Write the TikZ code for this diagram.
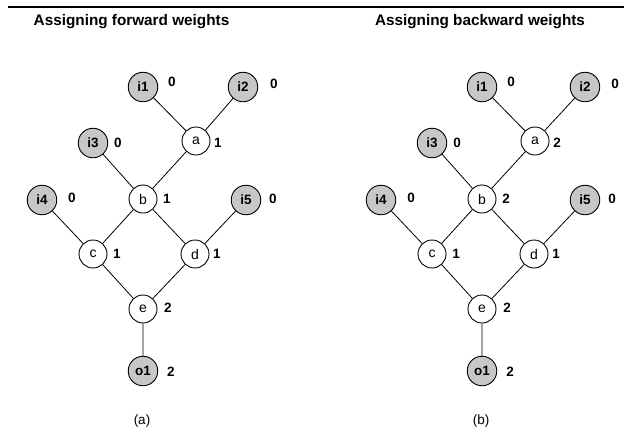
\documentclass[tikz,border=0pt]{standalone}
\usepackage{fontspec}
\setmainfont{Liberation Sans}
\begin{document}
\begin{tikzpicture}[x=1pt,y=-1pt,
  every node/.style={font=\fontsize{14}{16}\selectfont},
  gate/.style={circle,draw,line width=0.9pt,fill=white,minimum size=28pt,inner sep=0pt},
  port/.style={circle,draw,line width=0.9pt,fill=black!22,minimum size=29.5pt,inner sep=0pt,font=\fontsize{13.5}{16}\selectfont\bfseries},
  wt/.style={font=\fontsize{13.5}{16}\selectfont\bfseries,inner sep=0pt},
  wire/.style={line width=0.8pt},
  heading/.style={font=\fontsize{15.3}{18}\selectfont\bfseries,inner sep=0pt},
  caption/.style={font=\fontsize{13.5}{16}\selectfont,inner sep=0pt}]
\useasboundingbox (0,0) rectangle (624,432);
\draw[line width=1.6pt] (8,7) -- (624,7);

% forward weights
\node[heading] (Lt) at (131.5,22) {Assigning forward weights};
\node[port] (Li1) at (143,87) {i1};
\node[port] (Li2) at (243,87) {i2};
\node[port] (Li3) at (93,143) {i3};
\node[gate] (La) at (196,141) {a};
\node[gate] (Lb) at (143,199) {b};
\node[port] (Li4) at (42,200) {i4};
\node[port] (Li5) at (246,200) {i5};
\node[gate] (Lc) at (93,254) {c};
\node[gate] (Ld) at (195,254) {d};
\node[gate] (Le) at (143,309) {e};
\node[port] (Lo1) at (143,371) {o1};
\draw[wire] (Li1) -- (La) (Li2) -- (La) (La) -- (Lb) (Li3) -- (Lb)
  (Lb) -- (Lc) (Lb) -- (Ld) (Li4) -- (Lc) (Li5) -- (Ld)
  (Lc) -- (Le) (Ld) -- (Le) (Le) -- (Lo1);
\node[wt] (Lwi1) at (172,82) {0};
\node[wt] (Lwi2) at (274,84) {0};
\node[wt] (Lwi3) at (118,143) {0};
\node[wt] (Lwa) at (218,143) {1};
\node[wt] (Lwb) at (167,199) {1};
\node[wt] (Lwi4) at (72,198) {0};
\node[wt] (Lwi5) at (273,199) {0};
\node[wt] (Lwc) at (117,254) {1};
\node[wt] (Lwd) at (217,254) {1};
\node[wt] (Lwe) at (168,308) {2};
\node[wt] (Lwo1) at (171,372) {2};
\node[caption] (Lcap) at (142,421) {(a)};

% backward weights
\node[heading] (Rt) at (480,22) {Assigning backward weights};
\node[port] (Ri1) at (482,87) {i1};
\node[port] (Ri2) at (585,87) {i2};
\node[port] (Ri3) at (432,143) {i3};
\node[gate] (Ra) at (535,141) {a};
\node[gate] (Rb) at (482,199) {b};
\node[port] (Ri4) at (381,200) {i4};
\node[port] (Ri5) at (585,200) {i5};
\node[gate] (Rc) at (432,254) {c};
\node[gate] (Rd) at (534,254) {d};
\node[gate] (Re) at (482,309) {e};
\node[port] (Ro1) at (482,371) {o1};
\draw[wire] (Ri1) -- (Ra) (Ri2) -- (Ra) (Ra) -- (Rb) (Ri3) -- (Rb)
  (Rb) -- (Rc) (Rb) -- (Rd) (Ri4) -- (Rc) (Ri5) -- (Rd)
  (Rc) -- (Re) (Rd) -- (Re) (Re) -- (Ro1);
\node[wt] (Rwi1) at (511,82) {0};
\node[wt] (Rwi2) at (615,84) {0};
\node[wt] (Rwi3) at (457,143) {0};
\node[wt] (Rwa) at (557,143) {2};
\node[wt] (Rwb) at (506,199) {2};
\node[wt] (Rwi4) at (411,198) {0};
\node[wt] (Rwi5) at (612,199) {0};
\node[wt] (Rwc) at (456,254) {1};
\node[wt] (Rwd) at (556,254) {1};
\node[wt] (Rwe) at (507,308) {2};
\node[wt] (Rwo1) at (510,372) {2};
\node[caption] (Rcap) at (481,421) {(b)};
\end{tikzpicture}
\end{document}
